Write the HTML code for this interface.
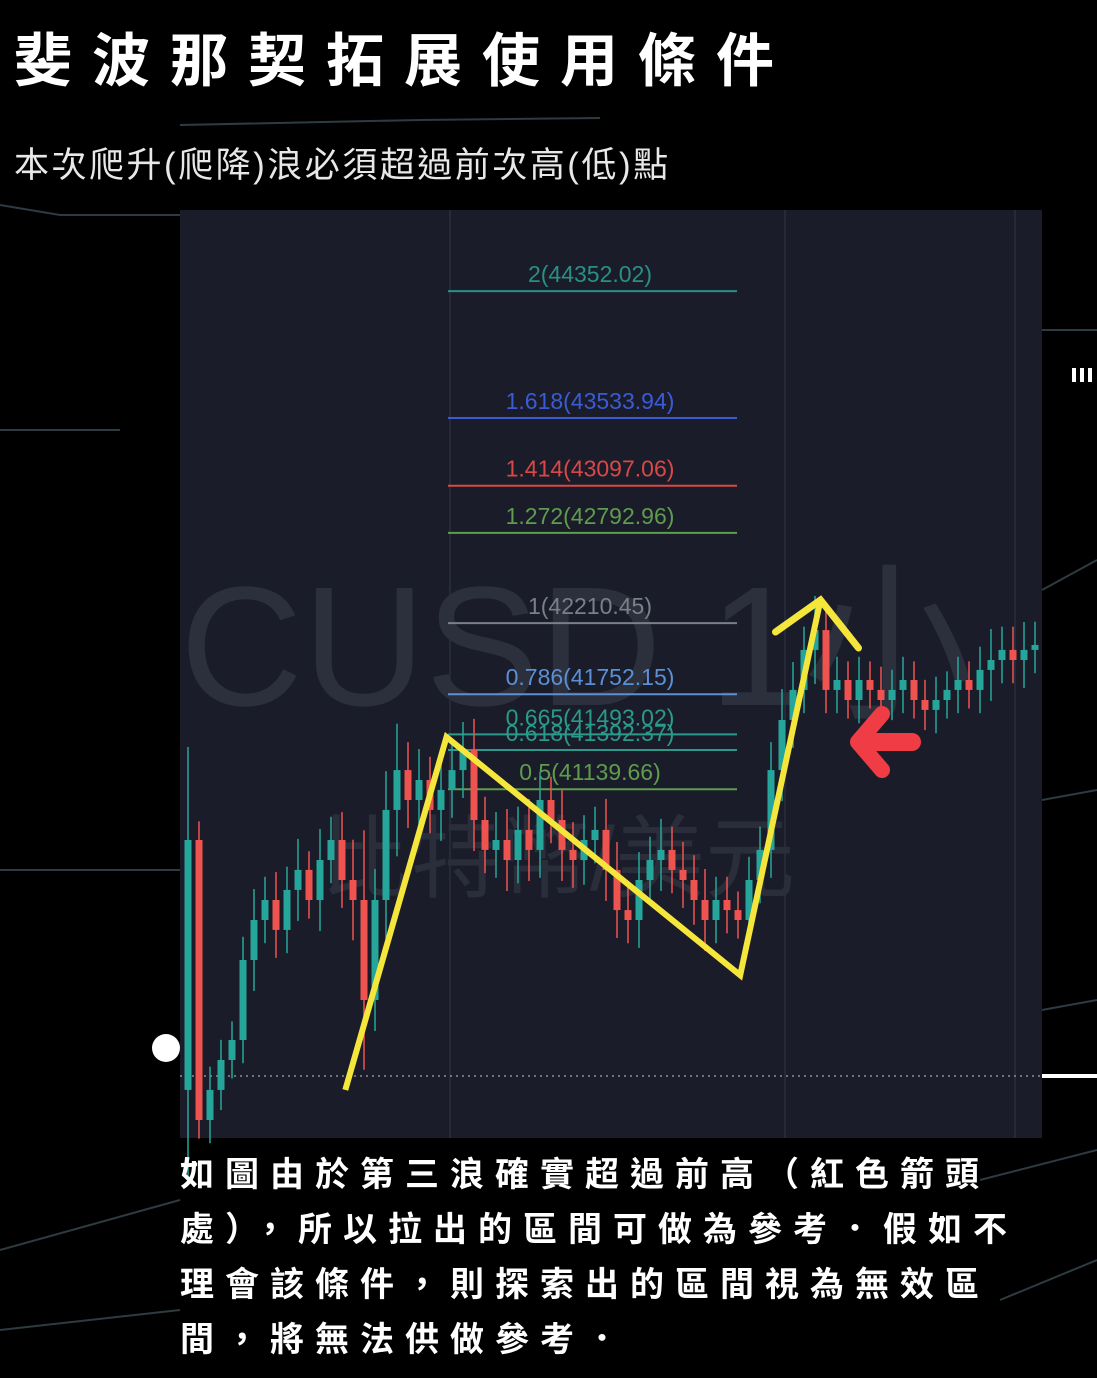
<!DOCTYPE html>
<html><head><meta charset="utf-8">
<style>
html,body{margin:0;padding:0;background:#000;}
body{width:1097px;height:1378px;position:relative;overflow:hidden;font-family:"Liberation Sans","Noto Sans CJK TC",sans-serif;}
#title{position:absolute;left:14px;top:22px;color:#fff;font-size:58px;font-weight:bold;letter-spacing:20px;white-space:nowrap;line-height:80px;font-family:"Liberation Sans","Noto Sans CJK TC",sans-serif;}
#subtitle{position:absolute;left:14px;top:144px;color:#e8e8e8;font-size:35px;letter-spacing:2.5px;white-space:nowrap;line-height:44px;}
#desc{position:absolute;left:180px;top:1148px;color:#fff;font-size:34px;font-weight:bold;letter-spacing:11px;line-height:55px;white-space:nowrap;}
svg{position:absolute;left:0;top:0;}
</style></head>
<body>
<svg id="bg" width="1097" height="1378">
  <g stroke="#3a4a50" stroke-width="2" fill="none" opacity="0.8">
    <path d="M0 205 L60 215 L180 215"/>
    <path d="M0 430 L120 430"/>
    <path d="M0 870 L180 870"/>
    <path d="M1042 330 L1097 330"/>
    <path d="M1042 590 L1097 560"/>
    <path d="M1042 800 L1097 790"/>
    <path d="M1042 1010 L1097 1000"/>
    <path d="M180 125 L420 120 L600 118"/>
    <path d="M0 1250 L180 1200"/>
    <path d="M0 1330 L180 1310"/>
    <path d="M980 1180 L1097 1150"/>
    <path d="M1000 1300 L1097 1260"/>
  </g>
  <line x1="1042" y1="1076" x2="1097" y2="1076" stroke="#fff" stroke-width="4"/>
  <circle cx="166" cy="1048" r="14" fill="#fff"/>
  <rect x="1072" y="368" width="4" height="14" fill="#fff"/>
  <rect x="1080" y="368" width="4" height="14" fill="#fff"/>
  <rect x="1088" y="368" width="4" height="14" fill="#fff"/>
</svg>

<div id="title">斐波那契拓展使用條件</div>
<div id="subtitle">本次爬升(爬降)浪必須超過前次高(低)點</div>

<svg id="chart" width="1097" height="1378"></svg>

<div id="desc">如圖由於第三浪確實超過前高（紅色箭頭<br>處），所以拉出的區間可做為參考．假如不<br>理會該條件，則探索出的區間視為無效區<br>間，將無法供做參考．</div>

<script>
// ---- data ----
const firstOpen = 39200;
const closes = [40812,39006,39200,39393,39522,40038,40296,40425,40232,40490,40619,40425,40683,40812,40554,40425,39780,40425,41006,41263,41070,41199,41006,41135,41263,41393,40941,40748,40812,40683,40877,40748,41070,40941,40748,40683,40812,40877,40619,40360,40296,40554,40683,40748,40619,40554,40425,40296,40425,40360,40296,40554,40748,41263,41586,41780,42038,42166,41780,41844,41715,41844,41780,41715,41780,41844,41715,41651,41715,41780,41844,41780,41909,41973,42038,41973,42038,42070];
const wicks = [600,120,150,130,120,150,200,150,180,150,200,120,200,150,180,260,450,200,250,300,180,200,150,200,180,180,200,150,180,200,150,200,180,150,200,180,160,150,200,180,150,180,150,200,150,180,160,200,150,150,120,150,150,180,200,180,150,220,150,150,120,150,120,150,130,150,120,130,150,120,150,120,150,200,150,150,180,150];
const fibRatios = ["2","1.618","1.414","1.272","1","0.786","0.665","0.618","0.5"];
const fibPrices = [44352.02,43533.94,43097.06,42792.96,42210.45,41752.15,41493.02,41392.37,41139.66];
const fibColors = ["#2a8f84","#3b5bd6","#d94848","#5e9c4e","#7a7f88","#5b8fd6","#2a9a8a","#2a9a8a","#5e9c4e"];
const zigIdx = [14.3, 23.5, 50.2, 57.5];
const zigPrice = [39200, 41476, 39940, 42360];

// ---- axes ----
const X0 = 188, STEP = 11;
function xS(i){ return X0 + i*STEP; }
function yS(p){ return (46230 - p)/6.45; }

const svg = document.getElementById('chart');
const NS = 'http://www.w3.org/2000/svg';
function mk(tag, attrs, parent){
  const e = document.createElementNS(NS, tag);
  for (const k in attrs) e.setAttribute(k, attrs[k]);
  (parent||svg).appendChild(e);
  return e;
}

const panel = mk('rect',{x:180,y:210,width:862,height:928,fill:'#1a1d29'});


[450,785,1015].forEach(x=>{
  const g = mk('line',{x1:x,y1:210,x2:x,y2:1138,stroke:'#262a38','stroke-width':2});
  
  
});
const wm = mk('text',{x:180,y:705,fill:'#2c303c','font-size':170,'font-family':'Liberation Sans, Noto Sans CJK TC, sans-serif'});
wm.textContent = 'CUSD  1小';


const wm2 = mk('text',{x:320,y:890,fill:'#2a2e3a','font-size':90,'font-family':'Liberation Sans, Noto Sans CJK TC, sans-serif'});
wm2.textContent = '比特幣/美元';



const dl = mk('line',{x1:180,y1:1076,x2:1042,y2:1076,stroke:'#8a8f9a','stroke-width':1.5,'stroke-dasharray':'2 4'});



fibRatios.forEach((r,i)=>{
  const y = yS(fibPrices[i]);
  const ln = mk('line',{x1:448,y1:y,x2:737,y2:y,stroke:fibColors[i],'stroke-width':2});
  
  
  const t = mk('text',{x:590,y:y-9,fill:fibColors[i],'font-size':23,'text-anchor':'middle','font-family':'Liberation Sans, sans-serif'});
  t.textContent = r + '(' + fibPrices[i].toFixed(2) + ')';
  
  
});

closes.forEach((c,i)=>{
  const o = i===0 ? firstOpen : closes[i-1];
  const up = c >= o;
  const col = up ? '#26a69a' : '#ef5350';
  const hi = Math.max(o,c) + wicks[i], lo = Math.min(o,c) - wicks[i];
  const x = xS(i);
  const w = mk('line',{x1:x,y1:yS(hi),x2:x,y2:yS(lo),stroke:col,'stroke-width':1.5});
  
  
  const top = yS(Math.max(o,c)), bot = yS(Math.min(o,c));
  const b = mk('rect',{x:x-3.5,y:top,width:7,height:Math.max(2,bot-top),fill:col});
  
  
});

const pts = zigIdx.map((ix,k)=> xS(ix)+','+yS(zigPrice[k])).join(' ');
const zz = mk('polyline',{points:pts,fill:'none',stroke:'#f5e63c','stroke-width':6,'stroke-linejoin':'miter'});


const tipX = xS(zigIdx[3]), tipY = yS(zigPrice[3]);
const ah = mk('polyline',{points:(tipX-45)+','+(tipY+32)+' '+tipX+','+tipY+' '+(tipX+38)+','+(tipY+48),fill:'none',stroke:'#f5e63c','stroke-width':7,'stroke-linecap':'round'});



const ra = mk('polyline',{points:'882,714 858,742 882,770',fill:'none',stroke:'#f03c45','stroke-width':16,'stroke-linecap':'round','stroke-linejoin':'round'});


const rs = mk('line',{x1:862,y1:742,x2:912,y2:742,stroke:'#f03c45','stroke-width':18,'stroke-linecap':'round'});


</script>
</body></html>
